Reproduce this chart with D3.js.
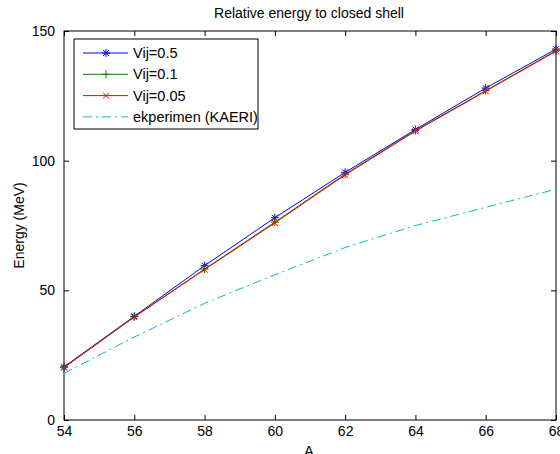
<!DOCTYPE html>
<html>
<head>
<meta charset="utf-8">
<script src="https://cdn.jsdelivr.net/npm/d3@7"></script>
<style>
  body { margin: 0; background: #fff; }
  text { font-family: "Liberation Sans", Arial, sans-serif; }
</style>
</head>
<body>
<div id="chart"></div>
<script>
var svgWidth = 560, svgHeight = 454;

// data
var massNumbers = [54, 56, 58, 60, 62, 64, 66, 68];
var vij05  = [20.5, 40, 59.5, 78, 95.5, 112, 128, 143];
var vij01  = [20.3, 39.8, 58.2, 76.3, 94.8, 111.6, 127.0, 142.4];
var vij005 = [20.2, 39.7, 58.0, 76.0, 94.5, 111.4, 126.8, 142.2];
var kaeri  = [18, 32, 45, 56, 66.5, 75, 82, 89];
var xTicks = [54, 56, 58, 60, 62, 64, 66, 68];
var yTicks = [0, 50, 100, 150];

var seriesNames = ["Vij=0.5", "Vij=0.1", "Vij=0.05", "ekperimen (KAERI)"];
var seriesColors = ["#0000ff", "#008000", "#ff0000", "#00bfbf"];
var seriesMarkers = ["star", "plus", "cross", "none"];
var seriesValues = [vij05, vij01, vij005, kaeri];

var plotLeft = 64, plotRight = 556, plotTop = 31, plotBottom = 420;

var svg = d3.select("#chart")
  .append("svg")
  .attr("width", svgWidth)
  .attr("height", svgHeight);

var x = d3.scaleLinear().domain([54, 68]).range([plotLeft, plotRight]);
var y = d3.scaleLinear().domain([0, 150]).range([plotBottom, plotTop]);

function styleAxis(g){
  g.select(".domain").remove();
  g.selectAll("line").attr("stroke", "#000");
  g.selectAll("text").attr("font-size", 14).attr("fill", "#000");
}

// box with inward ticks on all four sides
svg.append("g")
  .attr("transform", "translate(0," + plotBottom + ")")
  .call(d3.axisBottom(x).tickValues(xTicks).tickSize(-5).tickPadding(6))
  .call(styleAxis);
svg.append("g")
  .attr("transform", "translate(0," + plotTop + ")")
  .call(d3.axisTop(x).tickValues(xTicks).tickSize(-5).tickFormat(""))
  .call(styleAxis);
svg.append("g")
  .attr("transform", "translate(" + plotLeft + ",0)")
  .call(d3.axisLeft(y).tickValues(yTicks).tickSize(-5).tickPadding(9))
  .call(styleAxis);
svg.append("g")
  .attr("transform", "translate(" + plotRight + ",0)")
  .call(d3.axisRight(y).tickValues(yTicks).tickSize(-5).tickFormat(""))
  .call(styleAxis);

svg.append("rect")
  .attr("x", plotLeft).attr("y", plotTop)
  .attr("width", plotRight - plotLeft).attr("height", plotBottom - plotTop)
  .attr("fill", "none").attr("stroke", "#000");

var line = d3.line()
  .x(function(d, i){ return x(massNumbers[i]); })
  .y(function(d){ return y(d); });

function drawMarker(g, type, color, cx, cy){
  var s = 4, k = 3;
  if (type == "none") return;
  var p = "";
  if (type == "plus" || type == "star")
    p += "M" + (cx - s) + "," + cy + "H" + (cx + s) + "M" + cx + "," + (cy - s) + "V" + (cy + s);
  if (type == "cross" || type == "star")
    p += "M" + (cx - k) + "," + (cy - k) + "L" + (cx + k) + "," + (cy + k) +
         "M" + (cx - k) + "," + (cy + k) + "L" + (cx + k) + "," + (cy - k);
  g.append("path").attr("d", p).attr("stroke", color).attr("stroke-width", 1).attr("fill", "none");
}

// experiment first, model lines after
[3, 0, 1, 2].forEach(function(si){
  var g = svg.append("g");
  g.append("path")
    .datum(seriesValues[si])
    .attr("d", line)
    .attr("fill", "none")
    .attr("stroke", seriesColors[si])
    .attr("stroke-width", 1)
    .attr("stroke-dasharray", si == 3 ? "9,4,2,4" : null);
  seriesValues[si].forEach(function(v, i){
    drawMarker(g, seriesMarkers[si], seriesColors[si], x(massNumbers[i]), y(v));
  });
});

// legend
var lg = svg.append("g");
lg.append("rect")
  .attr("x", 74).attr("y", 39)
  .attr("width", 184).attr("height", 90)
  .attr("fill", "#fff").attr("stroke", "#000");
seriesNames.forEach(function(name, i){
  var ly = 53 + i * 21.3;
  lg.append("line")
    .attr("x1", 83).attr("x2", 128).attr("y1", ly).attr("y2", ly)
    .attr("stroke", seriesColors[i])
    .attr("stroke-dasharray", i == 3 ? "9,4,2,4" : null);
  drawMarker(lg, seriesMarkers[i], seriesColors[i], 106, ly);
  lg.append("text")
    .attr("x", 133).attr("y", ly + 5)
    .attr("font-size", 14.5)
    .text(name);
});

// titles
svg.append("text")
  .attr("x", 309).attr("y", 18)
  .attr("text-anchor", "middle")
  .attr("font-size", 14)
  .text("Relative energy to closed shell");
svg.append("text")
  .attr("x", 309).attr("y", 456)
  .attr("text-anchor", "middle")
  .attr("font-size", 14)
  .text("A");
svg.append("text")
  .attr("transform", "translate(24," + ((plotTop + plotBottom) / 2) + ") rotate(-90)")
  .attr("text-anchor", "middle")
  .attr("font-size", 14)
  .text("Energy (MeV)");
</script>
</body>
</html>
